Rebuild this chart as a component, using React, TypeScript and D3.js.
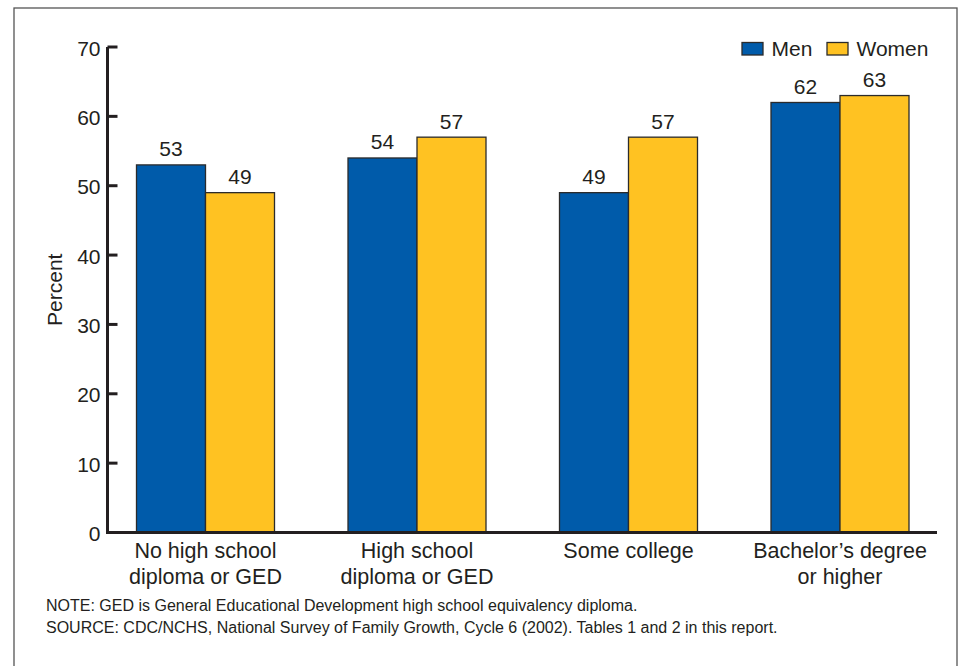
import React from "react";
import * as d3 from "d3";

const categories: string[][] = [
  ["No high school", "diploma or GED"],
  ["High school", "diploma or GED"],
  ["Some college"],
  ["Bachelor\u2019s degree", "or higher"],
];
const categoryKeys = ["nohs", "hs", "some", "ba"];
const series = ["Men", "Women"];
const menValues = [53, 54, 49, 62];
const womenValues = [49, 57, 57, 63];
const yTicks = [0, 10, 20, 30, 40, 50, 60, 70];
const noteLines = [
  "NOTE: GED is General Educational Development high school equivalency diploma.",
  "SOURCE: CDC/NCHS, National Survey of Family Growth, Cycle 6 (2002). Tables 1 and 2 in this report.",
];

const colors: Record<string, string> = { Men: "#005BAA", Women: "#FFC222" };
const font = "'Liberation Sans', Arial, Helvetica, sans-serif";
const textColor = "#231F20";

export default function App() {
  const W = 961, H = 666;
  const axisX = 107.5, axisRight = 937;
  const y = d3.scaleLinear().domain([0, 70]).range([532.5, 47]);
  const x = d3.scalePoint<string>().domain(categoryKeys).range([205.5, 840]);
  const barW = 69;
  const values: Record<string, number[]> = { Men: menValues, Women: womenValues };

  return (
    <svg width={W} height={H} style={{ position: "absolute", left: 0, top: 0 }} fontFamily={font}>
      <rect x={0} y={0} width={W} height={H} fill="#fff" />
      <rect x={14} y={8} width={943} height={670} fill="none" stroke="#555" strokeWidth={1.3} />
      {/* bars */}
      {categoryKeys.map((k, i) => (
        <g key={k}>
          {series.map((s, j) => {
            const v = values[s][i];
            const cx = (x(k) as number) + (j === 0 ? -barW : 0);
            return (
              <g key={s}>
                <rect x={cx} y={y(v)} width={barW} height={y(0) - y(v)} fill={colors[s]} stroke="#2b2b2b" strokeWidth={1.3} />
                <text x={cx + barW / 2} y={y(v) - 8.5} textAnchor="middle" fontSize={21} fill={textColor}>{v}</text>
              </g>
            );
          })}
          {categories[i].map((line, li) => (
            <text key={li} x={x(k) as number} y={557.5 + li * 26.5} textAnchor="middle" fontSize={21.5} fill={textColor}>{line}</text>
          ))}
        </g>
      ))}
      {/* axes */}
      <line x1={axisX} x2={axisX} y1={y(70)} y2={y(0) + 1} stroke="#231F20" strokeWidth={3} />
      <line x1={axisX - 1.5} x2={axisRight} y1={y(0)} y2={y(0)} stroke="#231F20" strokeWidth={3} />
      {yTicks.map((t) => (
        <g key={t}>
          <line x1={axisX} x2={axisX + 10} y1={y(t)} y2={y(t)} stroke="#231F20" strokeWidth={3} />
          <text x={axisX - 7} y={y(t) + 8.5} textAnchor="end" fontSize={21} fill={textColor}>{t}</text>
        </g>
      ))}
      <text transform={`translate(62,${y(35)}) rotate(-90)`} textAnchor="middle" fontSize={21} fill={textColor}>Percent</text>
      {/* legend */}
      {series.map((s, j) => {
        const lx = j === 0 ? 742 : 827;
        return (
          <g key={s}>
            <rect x={lx} y={42.5} width={21} height={12.5} fill={colors[s]} stroke="#2b2b2b" strokeWidth={1.3} />
            <text x={lx + 29.5} y={56} fontSize={21} fill={textColor}>{s}</text>
          </g>
        );
      })}
      {noteLines.map((l, i) => (
        <text key={i} x={46} y={611 + i * 21.5} fontSize={16} fill={textColor}>{l}</text>
      ))}
    </svg>
  );
}
